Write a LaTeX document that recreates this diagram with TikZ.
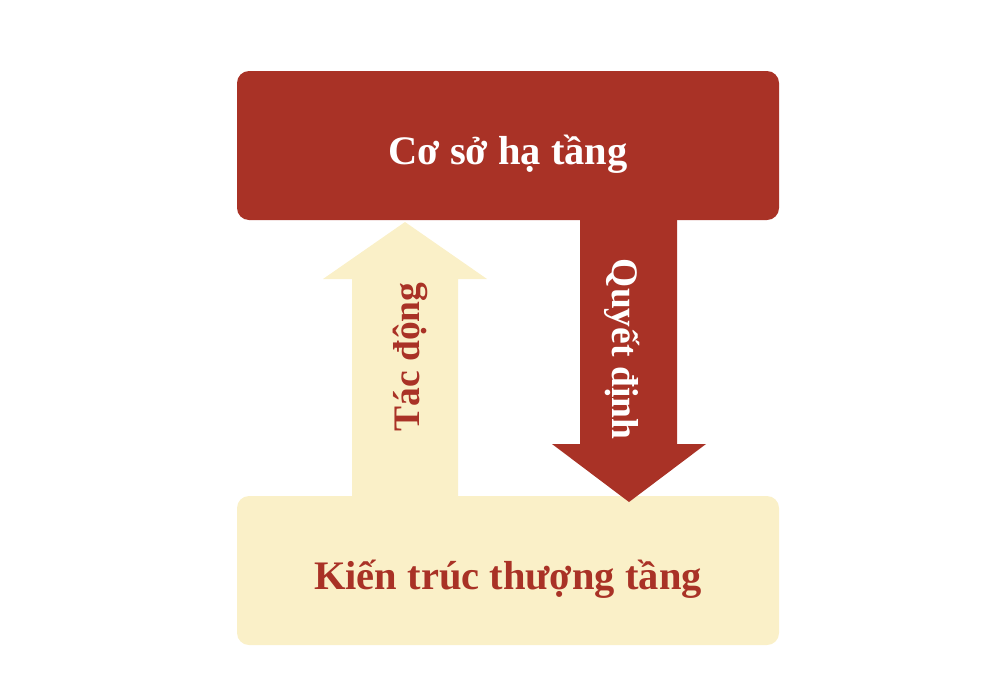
\documentclass[tikz,border=0pt]{standalone}
\usepackage{fontspec}
\setmainfont{Liberation Serif}
\definecolor{brick}{HTML}{A93226}
\definecolor{cream}{HTML}{FAF0C8}
\tikzset{
  panel/.style={rounded corners=12pt, minimum width=542pt, minimum height=149pt, inner sep=0pt},
  bigtext/.style={font=\fontsize{40.5}{44}\selectfont\bfseries, inner sep=0pt},
  arrtext/.style={font=\fontsize{37.5}{41}\selectfont\bfseries, inner sep=0pt}
}
\begin{document}
\begin{tikzpicture}[x=1pt,y=-1pt]
\useasboundingbox (0,0) rectangle (992,688);
\node[panel, fill=cream] (bot) at (508,570.5) {};
\fill[cream] (352,496) -- (352,279) -- (323,279) -- (405,222) -- (487,279) -- (458,279) -- (458,496) -- cycle;
\node[panel, fill=brick] (top) at (508,145.5) {};
\fill[brick] (580,218) -- (580,444) -- (552,444) -- (629,502) -- (706,444) -- (677,444) -- (677,218) -- cycle;
\node[bigtext, text=white, anchor=base] (toptxt) at (508,164) {Cơ sở hạ tầng};
\node[bigtext, text=brick, anchor=base] (bottxt) at (508,589) {Kiến trúc thượng tầng};
\node[arrtext, text=brick, rotate=90, anchor=base] (up) at (419,357) {Tác động};
\node[arrtext, text=white, rotate=-90, anchor=base] (down) at (612,349) {Quyết định};
\end{tikzpicture}
\end{document}
